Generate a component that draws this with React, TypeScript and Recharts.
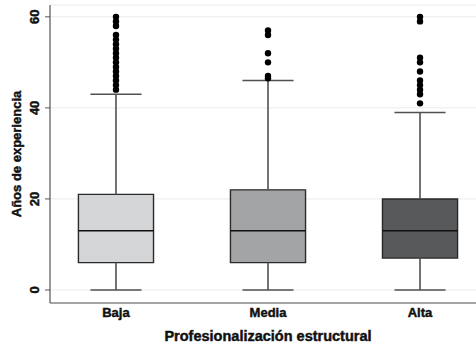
import React from 'react';
import {
  ComposedChart,
  XAxis,
  YAxis,
  CartesianGrid,
  ReferenceArea,
  ReferenceLine,
  Scatter,
  Label,
} from 'recharts';

// ---- Data ----
const categories = ['Baja', 'Media', 'Alta'];
const positions = [1, 2, 3];
const q1Values = [6, 6, 7];
const medianValues = [13, 13, 13];
const q3Values = [21, 22, 20];
const whiskerLow = [0, 0, 0];
const whiskerHigh = [43, 46, 39];
const outliersBaja = [44, 45, 46, 47, 48, 49, 50, 51, 52, 53, 54, 55, 56, 58, 59, 60];
const outliersMedia = [46.5, 47, 50, 52, 56, 57];
const outliersAlta = [41, 43, 44, 45, 46, 48, 50, 51, 59, 60];
const yTicks = [0, 20, 40, 60];
const boxFills = ['#d4d5d7', '#a3a4a6', '#58595b'];

const outlierSets = [outliersBaja, outliersMedia, outliersAlta];
const outlierData = outlierSets.flatMap((vals, i) =>
  vals.map((v) => ({ x: positions[i], y: v }))
);

const BOX_HALF = 0.247;
const CAP_HALF = 0.168;
const FONT = '"Liberation Sans", Arial, Helvetica, sans-serif';
const TEXT_STROKE = { stroke: '#111', strokeWidth: 0.45 };

const YTick = (props: any) => {
  const { x, y, payload } = props;
  const bx = x - 4;
  return (
    <text
      x={bx}
      y={y}
      transform={`rotate(-90, ${bx}, ${y})`}
      textAnchor="middle"
      fontFamily={FONT}
      fontWeight="bold"
      fontSize={13}
      fill="#111"
      {...TEXT_STROKE}
    >
      {payload.value}
    </text>
  );
};

const XTick = (props: any) => {
  const { x, y, payload } = props;
  return (
    <text
      x={x}
      y={y}
      dy="0.71em"
      textAnchor="middle"
      fontFamily={FONT}
      fontWeight="bold"
      fontSize={13}
      fill="#111"
      {...TEXT_STROKE}
    >
      {categories[payload.value - 1]}
    </text>
  );
};

const YTitle = (props: any) => {
  const { viewBox } = props;
  const cx = 21;
  const cy = viewBox.y + viewBox.height / 2;
  return (
    <text
      x={cx}
      y={cy}
      transform={`rotate(-90, ${cx}, ${cy})`}
      textAnchor="middle"
      fontFamily={FONT}
      fontWeight="bold"
      fontSize={13}
      fill="#111"
      {...TEXT_STROKE}
    >
      Años de experiencia
    </text>
  );
};

const XTitle = (props: any) => {
  const { viewBox } = props;
  const cx = viewBox.x + viewBox.width / 2;
  return (
    <text
      x={cx}
      y={340.5}
      textAnchor="middle"
      fontFamily={FONT}
      fontWeight="bold"
      fontSize={14.5}
      fill="#111"
      {...TEXT_STROKE}
    >
      Profesionalización estructural
    </text>
  );
};

export default function App() {
  return (
    <div
      style={{
        position: 'absolute',
        left: 0,
        top: 0,
        width: 476,
        height: 344,
        overflow: 'hidden',
        background: '#fff',
      }}
    >
      <ComposedChart
        width={486}
        height={344}
        margin={{ top: 5, right: 0, bottom: 0, left: 0 }}
        data={outlierData}
      >
        <CartesianGrid horizontal vertical={false} stroke="#ebebeb" strokeWidth={1} />
        <XAxis
          type="number"
          dataKey="x"
          domain={[0.566, 3.434]}
          allowDataOverflow
          ticks={positions}
          tickLine={false}
          tickSize={0}
          tickMargin={5}
          axisLine={{ stroke: '#555', strokeWidth: 1.2 }}
          height={41}
          tick={<XTick />}
        >
          <Label content={<XTitle />} />
        </XAxis>
        <YAxis
          type="number"
          dataKey="y"
          domain={[-2.86, 62.6]}
          allowDataOverflow
          ticks={yTicks}
          tickSize={5}
          tickLine={{ stroke: '#555', strokeWidth: 1 }}
          axisLine={{ stroke: '#555', strokeWidth: 1.2 }}
          width={50}
          tick={<YTick />}
        >
          <Label content={<YTitle />} />
        </YAxis>

        {positions.map((p, i) => (
          <ReferenceLine
            key={`wl-${i}`}
            segment={[
              { x: p, y: whiskerLow[i] },
              { x: p, y: q1Values[i] },
            ]}
            stroke="#505050"
            strokeWidth={1.6}
          />
        ))}
        {positions.map((p, i) => (
          <ReferenceLine
            key={`wh-${i}`}
            segment={[
              { x: p, y: q3Values[i] },
              { x: p, y: whiskerHigh[i] },
            ]}
            stroke="#505050"
            strokeWidth={1.6}
          />
        ))}
        {positions.map((p, i) => (
          <ReferenceLine
            key={`cl-${i}`}
            segment={[
              { x: p - CAP_HALF, y: whiskerLow[i] },
              { x: p + CAP_HALF, y: whiskerLow[i] },
            ]}
            stroke="#505050"
            strokeWidth={1.6}
          />
        ))}
        {positions.map((p, i) => (
          <ReferenceLine
            key={`ch-${i}`}
            segment={[
              { x: p - CAP_HALF, y: whiskerHigh[i] },
              { x: p + CAP_HALF, y: whiskerHigh[i] },
            ]}
            stroke="#505050"
            strokeWidth={1.6}
          />
        ))}
        {positions.map((p, i) => (
          <ReferenceArea
            key={`box-${i}`}
            x1={p - BOX_HALF}
            x2={p + BOX_HALF}
            y1={q1Values[i]}
            y2={q3Values[i]}
            fill={boxFills[i]}
            fillOpacity={1}
            stroke="#2a2a2a"
            strokeWidth={1.4}
          />
        ))}
        {positions.map((p, i) => (
          <ReferenceLine
            key={`med-${i}`}
            segment={[
              { x: p - BOX_HALF, y: medianValues[i] },
              { x: p + BOX_HALF, y: medianValues[i] },
            ]}
            stroke="#111"
            strokeWidth={1.5}
          />
        ))}
        <Scatter
          data={outlierData}
          dataKey="y"
          isAnimationActive={false}
          shape={(props: any) => <circle cx={props.cx} cy={props.cy} r={3.2} fill="#000" />}
        />
      </ComposedChart>
    </div>
  );
}
